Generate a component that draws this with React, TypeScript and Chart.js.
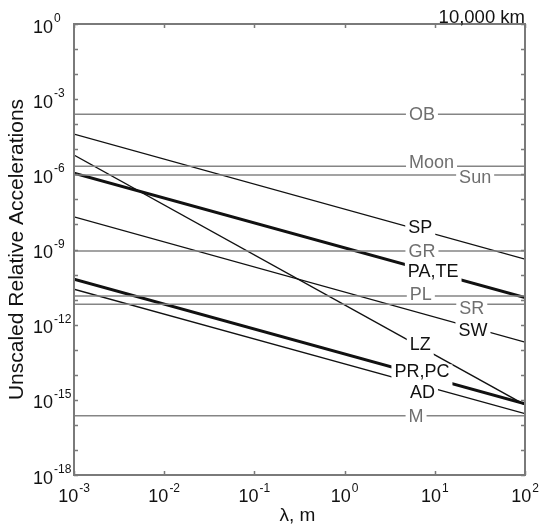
import React, { useEffect, useRef } from "react";
import { Chart, registerables } from "chart.js";

Chart.register(...registerables);

// Axis ranges
const LAMBDA_MIN = 1e-3;
const LAMBDA_MAX = 1e2;
const ACC_MIN = 1e-18;
const ACC_MAX = 1;

// Decade exponents
const xTickExponents = [-3, -2, -1, 0, 1, 2];
const yLabelExponents = [0, -3, -6, -9, -12, -15, -18];
const yTickExponents = Array.from({ length: 19 }, (_, i) => -i);

// Wavelength-independent sources
const flatNames = ["OB", "Moon", "Sun", "GR", "PL", "SR", "M"];
const flatValues = [2.5e-4, 2.1e-6, 9.3e-7, 8.7e-10, 1.4e-11, 6.5e-12, 2.3e-16];
const flatLabelAt = [7.2, 9.2, 28, 7.2, 7.0, 25.7, 6.2];
const flatLabelShift = [0, -4, 2, 0, -1.5, 3.5, 0];

// Power-law sources: value at λ = 1e-3 m and at λ = 1e2 m
const slopedNames = ["SP", "PA,TE", "LZ", "SW", "PR,PC", "AD"];
const slopedStart = [4.0e-5, 1.1e-6, 5.9e-6, 2.0e-8, 6.6e-11, 2.6e-11];
const slopedEnd = [4.1e-10, 1.2e-11, 6.3e-16, 2.0e-13, 6.9e-16, 2.8e-16];
const slopedLabelAt = [6.9, 9.6, 6.9, 26.5, 7.2, 7.3];
const slopedLabelShift = [-3.5, -1.5, -3, 2.5, -4, 7];
const slopedWidths = [1.3, 3, 1.3, 1.3, 3, 1.3];

const FONT = '"Liberation Sans", Arial, Helvetica, sans-serif';
const GRAY_LINE = "#858585";
const GRAY_TEXT = "#6f6f6f";
const FRAME = "#7a7a7a";
const INK = "#111111";

type LabelSpec = { text: string; at: number; ds: number; color: string; shift: number; lw: number };

const labels: LabelSpec[] = [
  ...flatNames.map((n, i) => ({
    text: n,
    at: flatLabelAt[i],
    ds: i,
    color: GRAY_TEXT,
    shift: flatLabelShift[i],
    lw: 1.5,
  })),
  ...slopedNames.map((n, i) => ({
    text: n,
    at: slopedLabelAt[i],
    ds: flatNames.length + i,
    color: INK,
    shift: slopedLabelShift[i],
    lw: slopedWidths[i],
  })),
];

const decorPlugin = {
  id: "decor",
  afterDatasetsDraw(chart: any) {
    const ctx: CanvasRenderingContext2D = chart.ctx;
    const area = chart.chartArea;
    const xs = chart.scales.x;
    const ys = chart.scales.y;
    ctx.save();

    // Curve labels set into gaps in their lines
    ctx.font = `18px ${FONT}`;
    ctx.textBaseline = "middle";
    ctx.textAlign = "center";
    const placed = labels.map((l) => {
      const meta = chart.getDatasetMeta(l.ds);
      const p0 = meta.data[0];
      const p1 = meta.data[1];
      const px = xs.getPixelForValue(l.at);
      const slope = (p1.y - p0.y) / (p1.x - p0.x);
      const py = p0.y + (px - p0.x) * slope;
      const w = ctx.measureText(l.text).width;
      return { l, px, py, w, slope };
    });
    ctx.fillStyle = "#ffffff";
    for (const { l, px, py, w, slope } of placed) {
      const half = Math.abs(slope) * (w / 2 + 3) + l.lw / 2 + 1;
      ctx.fillRect(px - w / 2 - 3, py - half, w + 6, half * 2);
      ctx.fillRect(px - w / 2 - 1, py + l.shift - 7, w + 2, 14);
    }
    for (const { l, px, py } of placed) {
      ctx.fillStyle = l.color;
      ctx.fillText(l.text, px, py + l.shift + 1);
    }

    // Frame
    ctx.strokeStyle = FRAME;
    ctx.lineWidth = 2;
    ctx.strokeRect(area.left, area.top, area.right - area.left, area.bottom - area.top);

    // Inward ticks on all four sides
    ctx.lineWidth = 1.5;
    ctx.beginPath();
    for (const e of xTickExponents) {
      const px = Math.round(xs.getPixelForValue(10 ** e)) + 0.5;
      ctx.moveTo(px, area.bottom);
      ctx.lineTo(px, area.bottom - 4);
      ctx.moveTo(px, area.top);
      ctx.lineTo(px, area.top + 4);
    }
    for (const e of yTickExponents) {
      const py = Math.round(ys.getPixelForValue(10 ** e)) + 0.5;
      ctx.moveTo(area.left, py);
      ctx.lineTo(area.left + 4, py);
      ctx.moveTo(area.right, py);
      ctx.lineTo(area.right - 4, py);
    }
    ctx.stroke();

    // Power-of-ten tick labels
    ctx.fillStyle = INK;
    ctx.textAlign = "left";
    ctx.textBaseline = "alphabetic";
    for (const e of xTickExponents) {
      const px = xs.getPixelForValue(10 ** e);
      ctx.font = `18px ${FONT}`;
      const wb = ctx.measureText("10").width;
      ctx.font = `12px ${FONT}`;
      const we = ctx.measureText(String(e)).width;
      const start = px - (wb + 1 + we) / 2;
      ctx.font = `18px ${FONT}`;
      ctx.fillText("10", start, area.bottom + 27);
      ctx.font = `12px ${FONT}`;
      ctx.fillText(String(e), start + wb + 1, area.bottom + 17);
    }
    for (const e of yLabelExponents) {
      const py = ys.getPixelForValue(10 ** e);
      ctx.font = `18px ${FONT}`;
      const wb = ctx.measureText("10").width;
      ctx.fillText("10", 33, py + 8.5);
      ctx.font = `12px ${FONT}`;
      ctx.fillText(String(e), 33 + wb + 1, py - 2);
    }

    // Corner note
    ctx.font = `18.5px ${FONT}`;
    ctx.textAlign = "right";
    ctx.fillText("10,000 km", area.right, area.top - 1.5);

    // Axis titles
    ctx.textAlign = "center";
    ctx.textBaseline = "middle";
    ctx.font = `19px ${FONT}`;
    ctx.fillText("λ, m", (area.left + area.right) / 2 - 2, area.bottom + 41);
    ctx.save();
    ctx.translate(17.5, (area.top + area.bottom) / 2);
    ctx.rotate(-Math.PI / 2);
    ctx.font = `21px ${FONT}`;
    ctx.fillText("Unscaled Relative Accelerations", 0, 0);
    ctx.restore();

    ctx.restore();
  },
};

export default function App() {
  const canvasRef = useRef<HTMLCanvasElement | null>(null);

  useEffect(() => {
    const canvas = canvasRef.current;
    if (!canvas) return;

    const flatSets = flatValues.map((v, i) => ({
      label: flatNames[i],
      data: [
        { x: LAMBDA_MIN, y: v },
        { x: LAMBDA_MAX, y: v },
      ],
      borderColor: GRAY_LINE,
      borderWidth: 1.5,
      pointRadius: 0,
    }));
    const slopedSets = slopedNames.map((n, i) => ({
      label: n,
      data: [
        { x: LAMBDA_MIN, y: slopedStart[i] },
        { x: LAMBDA_MAX, y: slopedEnd[i] },
      ],
      borderColor: INK,
      borderWidth: slopedWidths[i],
      pointRadius: 0,
    }));

    const chart = new Chart(canvas, {
      type: "line",
      data: { datasets: [...flatSets, ...slopedSets] as any },
      options: {
        animation: false,
        responsive: false,
        devicePixelRatio: 1,
        layout: { padding: { left: 74, top: 24, right: 15, bottom: 52 } },
        plugins: {
          legend: { display: false },
          tooltip: { enabled: false },
        },
        elements: { line: { tension: 0 } },
        scales: {
          x: { type: "logarithmic", min: LAMBDA_MIN, max: LAMBDA_MAX, display: false },
          y: { type: "logarithmic", min: ACC_MIN, max: ACC_MAX, display: false },
        },
      },
      plugins: [decorPlugin],
    });

    return () => chart.destroy();
  }, []);

  return (
    <div style={{ position: "fixed", left: 0, top: 0, width: 540, height: 527, background: "#fff" }}>
      <canvas ref={canvasRef} width={540} height={527} style={{ width: 540, height: 527 }} />
    </div>
  );
}
